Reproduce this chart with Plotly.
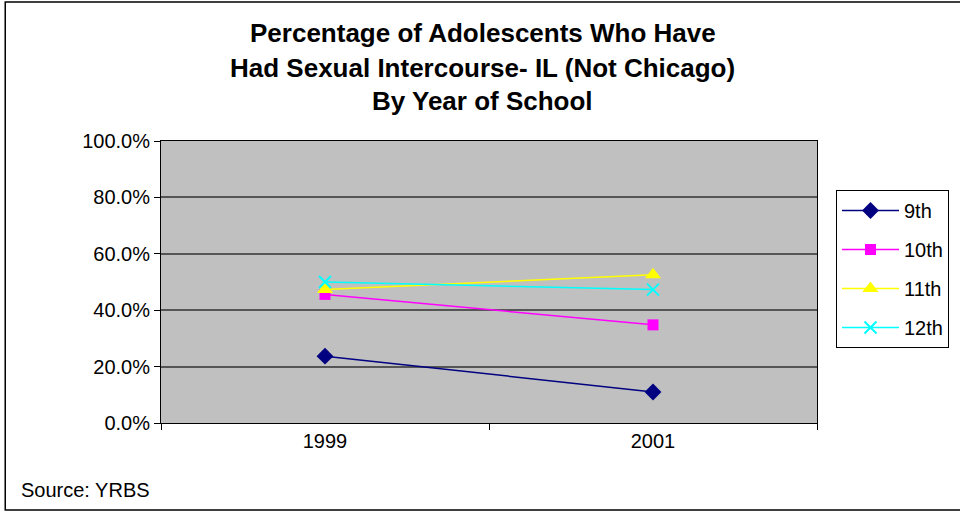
import plotly.graph_objects as go

years = ["1999", "2001"]
grade_9 = [23.7, 11.0]
grade_10 = [45.6, 34.8]
grade_11 = [47.3, 52.6]
grade_12 = [50.0, 47.3]
series_names = ["9th", "10th", "11th", "12th"]
y_ticks = [0, 20, 40, 60, 80, 100]
title_lines = ["Percentage of Adolescents Who Have",
               "Had Sexual Intercourse- IL (Not Chicago)",
               "By Year of School"]

W, H = 960, 513
L, R, T, B = 161, 818, 141, 423
pw, ph = R - L, B - T

def px(x):
    return (x - L) / pw

def py(y):
    return (B - y) / ph

styles = [
    dict(color="#000080", symbol="diamond", size=13),
    dict(color="#FF00FF", symbol="square", size=11),
    dict(color="#FFFF00", symbol="triangle-up", size=14),
    dict(color="#00FFFF", symbol="x-thin", size=12),
]
data = [grade_9, grade_10, grade_11, grade_12]

fig = go.Figure()
for name, vals, st in zip(series_names, data, styles):
    marker = dict(symbol=st["symbol"], size=st["size"], color=st["color"])
    if st["symbol"] == "x-thin":
        marker["line"] = dict(color=st["color"], width=2)
    fig.add_trace(go.Scatter(
        x=years, y=vals, name=name, mode="lines+markers",
        line=dict(color=st["color"], width=1.5),
        marker=marker, legendgroup=name,
    ))

font = "Liberation Sans, Arial, sans-serif"

fig.update_layout(
    width=W, height=H,
    margin=dict(l=L, r=W - R, t=T, b=H - B),
    paper_bgcolor="white",
    plot_bgcolor="#C0C0C0",
    font=dict(family=font, size=20, color="black"),
    showlegend=True,
    legend=dict(
        x=px(836), y=py(190), xanchor="left", yanchor="top",
        bgcolor="white", bordercolor="black", borderwidth=1,
        font=dict(size=20), tracegroupgap=10,
        itemwidth=57,
    ),
    xaxis=dict(
        type="category", range=[-0.5, 1.5], tickson="boundaries",
        ticks="outside", ticklen=6, tickcolor="black",
        showgrid=False, showline=True, linecolor="black", linewidth=1,
        mirror=True, zeroline=False,
        tickfont=dict(size=20),
    ),
    yaxis=dict(
        range=[0, 100], tickvals=y_ticks,
        ticktext=[f"{v:.1f}%" for v in y_ticks],
        ticks="outside", ticklen=6, tickcolor="black",
        showgrid=True, gridcolor="#555555", gridwidth=1.5,
        showline=True, linecolor="black", linewidth=1, mirror=True,
        zeroline=False, tickfont=dict(size=20),
    ),
)

title_y = [33, 68, 101]
for txt, yy in zip(title_lines, title_y):
    fig.add_annotation(
        text=f"<b>{txt}</b>", xref="paper", yref="paper",
        x=px(483), y=py(yy), xanchor="center", yanchor="middle",
        showarrow=False, font=dict(size=26, family=font),
    )

fig.add_annotation(
    text="Source: YRBS", xref="paper", yref="paper",
    x=px(19), y=py(490), xanchor="left", yanchor="middle",
    showarrow=False, font=dict(size=20, family=font),
)

fig.add_shape(
    type="rect", xref="paper", yref="paper",
    x0=px(5), x1=px(975), y0=py(2), y1=py(510),
    line=dict(color="black", width=1.5), fillcolor="rgba(0,0,0,0)",
    layer="below",
)

fig.write_html(
    "out.html",
    config={"displayModeBar": False},
    post_script="document.body.style.margin='0';document.body.style.overflow='hidden';",
)
